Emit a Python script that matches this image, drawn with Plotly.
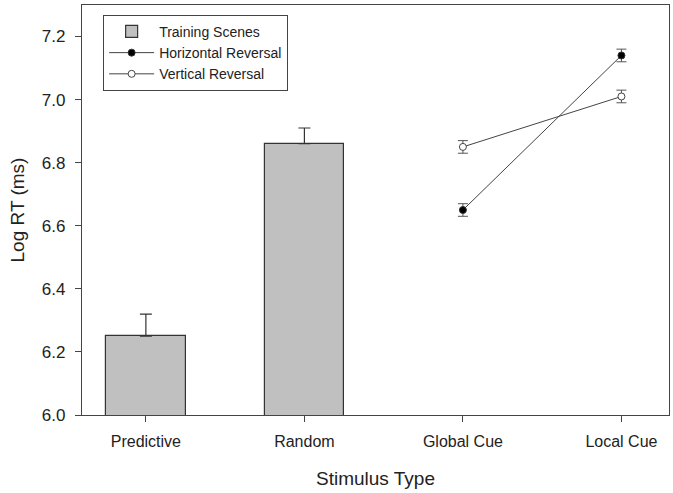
import plotly.graph_objects as go

bar_cats = ["Predictive", "Random"]
bar_vals = [6.25, 6.86]
bar_err = [0.07, 0.05]

line_cats = ["Global Cue", "Local Cue"]
horiz_vals = [6.65, 7.14]
horiz_err = [0.02, 0.02]
vert_vals = [6.85, 7.01]
vert_err = [0.02, 0.02]

all_cats = bar_cats + line_cats
pos = {c: i for i, c in enumerate(all_cats)}

FONT = "Liberation Sans, Arial, sans-serif"
fig = go.Figure()
fig.add_trace(go.Bar(
    x=[pos[c] for c in bar_cats], y=bar_vals, width=0.5,
    name="Training Scenes",
    marker=dict(color="#c0c0c0", line=dict(color="#333333", width=1.2)),
    error_y=dict(type="data", array=bar_err, arrayminus=[0, 0], symmetric=False,
                 color="#333333", thickness=1.2, width=6),
))
fig.add_trace(go.Scatter(
    x=[pos[c] for c in line_cats], y=horiz_vals, mode="lines+markers",
    name="Horizontal Reversal",
    line=dict(color="#444444", width=1),
    marker=dict(symbol="circle", size=7, color="black", line=dict(color="#333333", width=1)),
    error_y=dict(type="data", array=horiz_err, color="#555555", thickness=1, width=5),
))
fig.add_trace(go.Scatter(
    x=[pos[c] for c in line_cats], y=vert_vals, mode="lines+markers",
    name="Vertical Reversal",
    line=dict(color="#444444", width=1),
    marker=dict(symbol="circle", size=7, color="white", line=dict(color="#444444", width=1)),
    error_y=dict(type="data", array=vert_err, color="#555555", thickness=1, width=5),
))

fig.update_layout(
    width=673, height=493,
    margin=dict(l=82, r=4, t=5, b=78, autoexpand=False),
    plot_bgcolor="white", paper_bgcolor="white",
    font=dict(family=FONT, size=16, color="#222222"),
    showlegend=True,
    legend=dict(x=0.036, y=0.976, xanchor="left", yanchor="top",
                bordercolor="#444444", borderwidth=1, bgcolor="white",
                font=dict(size=14), tracegroupgap=0, itemwidth=45),
    bargap=0,
)
fig.update_xaxes(
    range=[-0.403, 3.30], tickmode="array",
    tickvals=list(range(len(all_cats))), ticktext=all_cats,
    showline=True, linecolor="#444444", linewidth=1.2, mirror=True,
    ticks="outside", ticklen=6, tickcolor="#444444", showgrid=False, zeroline=False,
    tickfont=dict(size=16), automargin=False, ticklabelstandoff=6,
    title=dict(text="Stimulus Type", font=dict(size=19), standoff=22),
)
fig.update_yaxes(
    range=[6.0, 7.3], tickvals=[6.0, 6.2, 6.4, 6.6, 6.8, 7.0, 7.2],
    tickformat=".1f",
    showline=True, linecolor="#444444", linewidth=1.2, mirror=True,
    ticks="outside", ticklen=6, tickcolor="#444444", showgrid=False, zeroline=False,
    tickfont=dict(size=17), automargin=False, ticklabelstandoff=6,
    title=dict(text="Log RT (ms)", font=dict(size=19), standoff=12),
)
fig.write_html("out.html", config={"displayModeBar": False},
               post_script="document.body.style.margin='0';")
